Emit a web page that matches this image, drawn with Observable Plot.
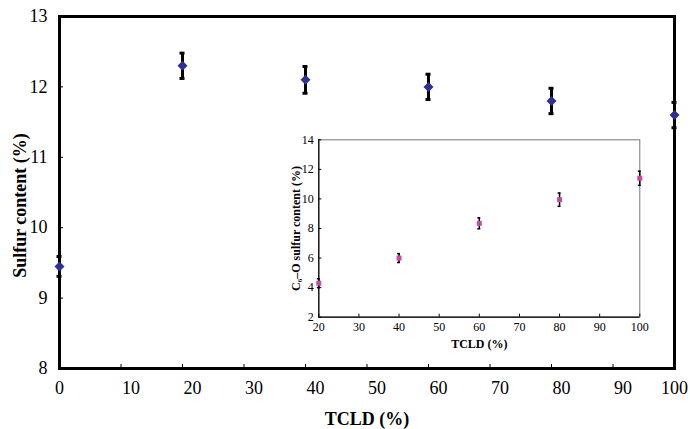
<!DOCTYPE html>
<html>
<head>
<meta charset="utf-8">
<script src="https://cdn.jsdelivr.net/npm/d3@7"></script>
<script src="https://cdn.jsdelivr.net/npm/@observablehq/plot@0.6"></script>
<style>
  html, body { margin: 0; padding: 0; background: #fff; }
  #wrap { position: relative; width: 690px; height: 429px; }
  #inset { position: absolute; left: 270px; top: 125px; }
</style>
</head>
<body>
<div id="wrap"><div id="main"></div><div id="inset"></div></div>
<script>
// Main chart data
const mainX = [0, 20, 40, 60, 80, 100];
const mainY = [9.45, 12.3, 12.1, 12.0, 11.8, 11.6];
const mainErr = [0.14, 0.18, 0.19, 0.18, 0.18, 0.18];
const mainXTicks = [0, 10, 20, 30, 40, 50, 60, 70, 80, 90, 100];
const mainYTicks = [8, 9, 10, 11, 12, 13];

// Inset data
const insetX = [20, 40, 60, 80, 100];
const insetY = [4.3, 6.0, 8.35, 9.95, 11.4];
const insetErr = [0.3, 0.3, 0.37, 0.45, 0.48];
const insetXTicks = [20, 30, 40, 50, 60, 70, 80, 90, 100];
const insetYTicks = [2, 4, 6, 8, 10, 12, 14];

const mainData = mainX.map((x, i) => ({x, y: mainY[i], e: mainErr[i]}));
const insetData = insetX.map((x, i) => ({x, y: insetY[i], e: insetErr[i]}));

const serif = "'Liberation Serif', 'Times New Roman', serif";
const fmt = d3.format("d");

const main = Plot.plot({
  width: 690, height: 429,
  marginLeft: 59, marginRight: 16, marginTop: 16, marginBottom: 61,
  style: {fontFamily: serif, fontSize: "18px", color: "#000", background: "transparent"},
  x: {domain: [0, 100]},
  y: {domain: [8, 13]},
  marks: [
    Plot.axisY(mainYTicks, {tickSize: -4, tickFormat: () => "", label: null, strokeWidth: 1}),
    Plot.axisY(mainYTicks, {tickSize: 0, tickPadding: 12, tickFormat: fmt, label: null, fontSize: 18}),
    Plot.axisX(mainXTicks, {tickSize: -4, tickFormat: () => "", label: null, strokeWidth: 1}),
    Plot.axisX([0, 100], {tickSize: 0, tickPadding: 13, tickFormat: fmt, label: null, fontSize: 18}),
    Plot.axisX(mainXTicks.slice(1, -1), {tickSize: 0, tickPadding: 13, tickFormat: fmt, dx: 10, label: null, fontSize: 18}),
    Plot.frame({stroke: "#000", strokeWidth: 3}),
    Plot.ruleX(mainData, {x: "x", y1: d => d.y - d.e, y2: d => d.y + d.e, stroke: "#000", strokeWidth: 3}),
    Plot.ruleY(mainData, {y: d => d.y + d.e, x1: "x", x2: "x", insetLeft: -2.5, insetRight: -2.5, stroke: "#000", strokeWidth: 3}),
    Plot.ruleY(mainData, {y: d => d.y - d.e, x1: "x", x2: "x", insetLeft: -2.5, insetRight: -2.5, stroke: "#000", strokeWidth: 3}),
    Plot.dot(mainData, {x: "x", y: "y", symbol: "diamond2", r: 4.5, fill: "#2e3192", stroke: "none"}),
    Plot.text(["TCLD (%)"], {frameAnchor: "bottom", dy: 51, fontWeight: "bold", fontSize: 18, textAnchor: "middle", lineAnchor: "middle"}),
    Plot.text(["Sulfur content (%)"], {frameAnchor: "left", dx: -39, dy: 13, rotate: -90, fontWeight: "bold", fontSize: 18, textAnchor: "middle", lineAnchor: "middle"})
  ]
});
document.getElementById("main").appendChild(main);

const inset = Plot.plot({
  width: 380, height: 230,
  marginLeft: 48.3, marginRight: 10.7, marginTop: 14.3, marginBottom: 38.3,
  style: {fontFamily: serif, fontSize: "12px", color: "#000", background: "transparent"},
  x: {domain: [20, 100]},
  y: {domain: [2, 14]},
  marks: [
    Plot.frame({stroke: "#777", strokeWidth: 1}),
    Plot.ruleX([20], {stroke: "#000", strokeWidth: 1.2}),
    Plot.ruleY([2], {stroke: "#000", strokeWidth: 1.2}),
    Plot.axisY(insetYTicks, {tickSize: -3, tickFormat: () => "", label: null}),
    Plot.axisY(insetYTicks, {tickSize: 0, tickPadding: 5, tickFormat: fmt, label: null, fontSize: 12}),
    Plot.axisX(insetXTicks, {tickSize: -3, tickFormat: () => "", label: null}),
    Plot.axisX(insetXTicks, {tickSize: 0, tickPadding: 5, tickFormat: fmt, label: null, fontSize: 12}),
    Plot.ruleX(insetData, {x: "x", y1: d => d.y - d.e, y2: d => d.y + d.e, stroke: "#000", strokeWidth: 1.5}),
    Plot.ruleY(insetData, {y: d => d.y + d.e, x1: "x", x2: "x", insetLeft: -1.5, insetRight: -1.5, stroke: "#000", strokeWidth: 1.5}),
    Plot.ruleY(insetData, {y: d => d.y - d.e, x1: "x", x2: "x", insetLeft: -1.5, insetRight: -1.5, stroke: "#000", strokeWidth: 1.5}),
    Plot.dot(insetData, {x: "x", y: "y", symbol: "square", r: 2.8, fill: "#c04d9f", stroke: "none"}),
    Plot.text(["TCLD (%)"], {frameAnchor: "bottom", dy: 27, fontWeight: "bold", fontSize: 12, textAnchor: "middle", lineAnchor: "middle"}),
    Plot.text(["C₆–O sulfur content (%)"], {frameAnchor: "left", dx: -23, rotate: -90, fontWeight: "bold", fontSize: 12, textAnchor: "middle", lineAnchor: "middle"})
  ]
});
document.getElementById("inset").appendChild(inset);
</script>
</body>
</html>
